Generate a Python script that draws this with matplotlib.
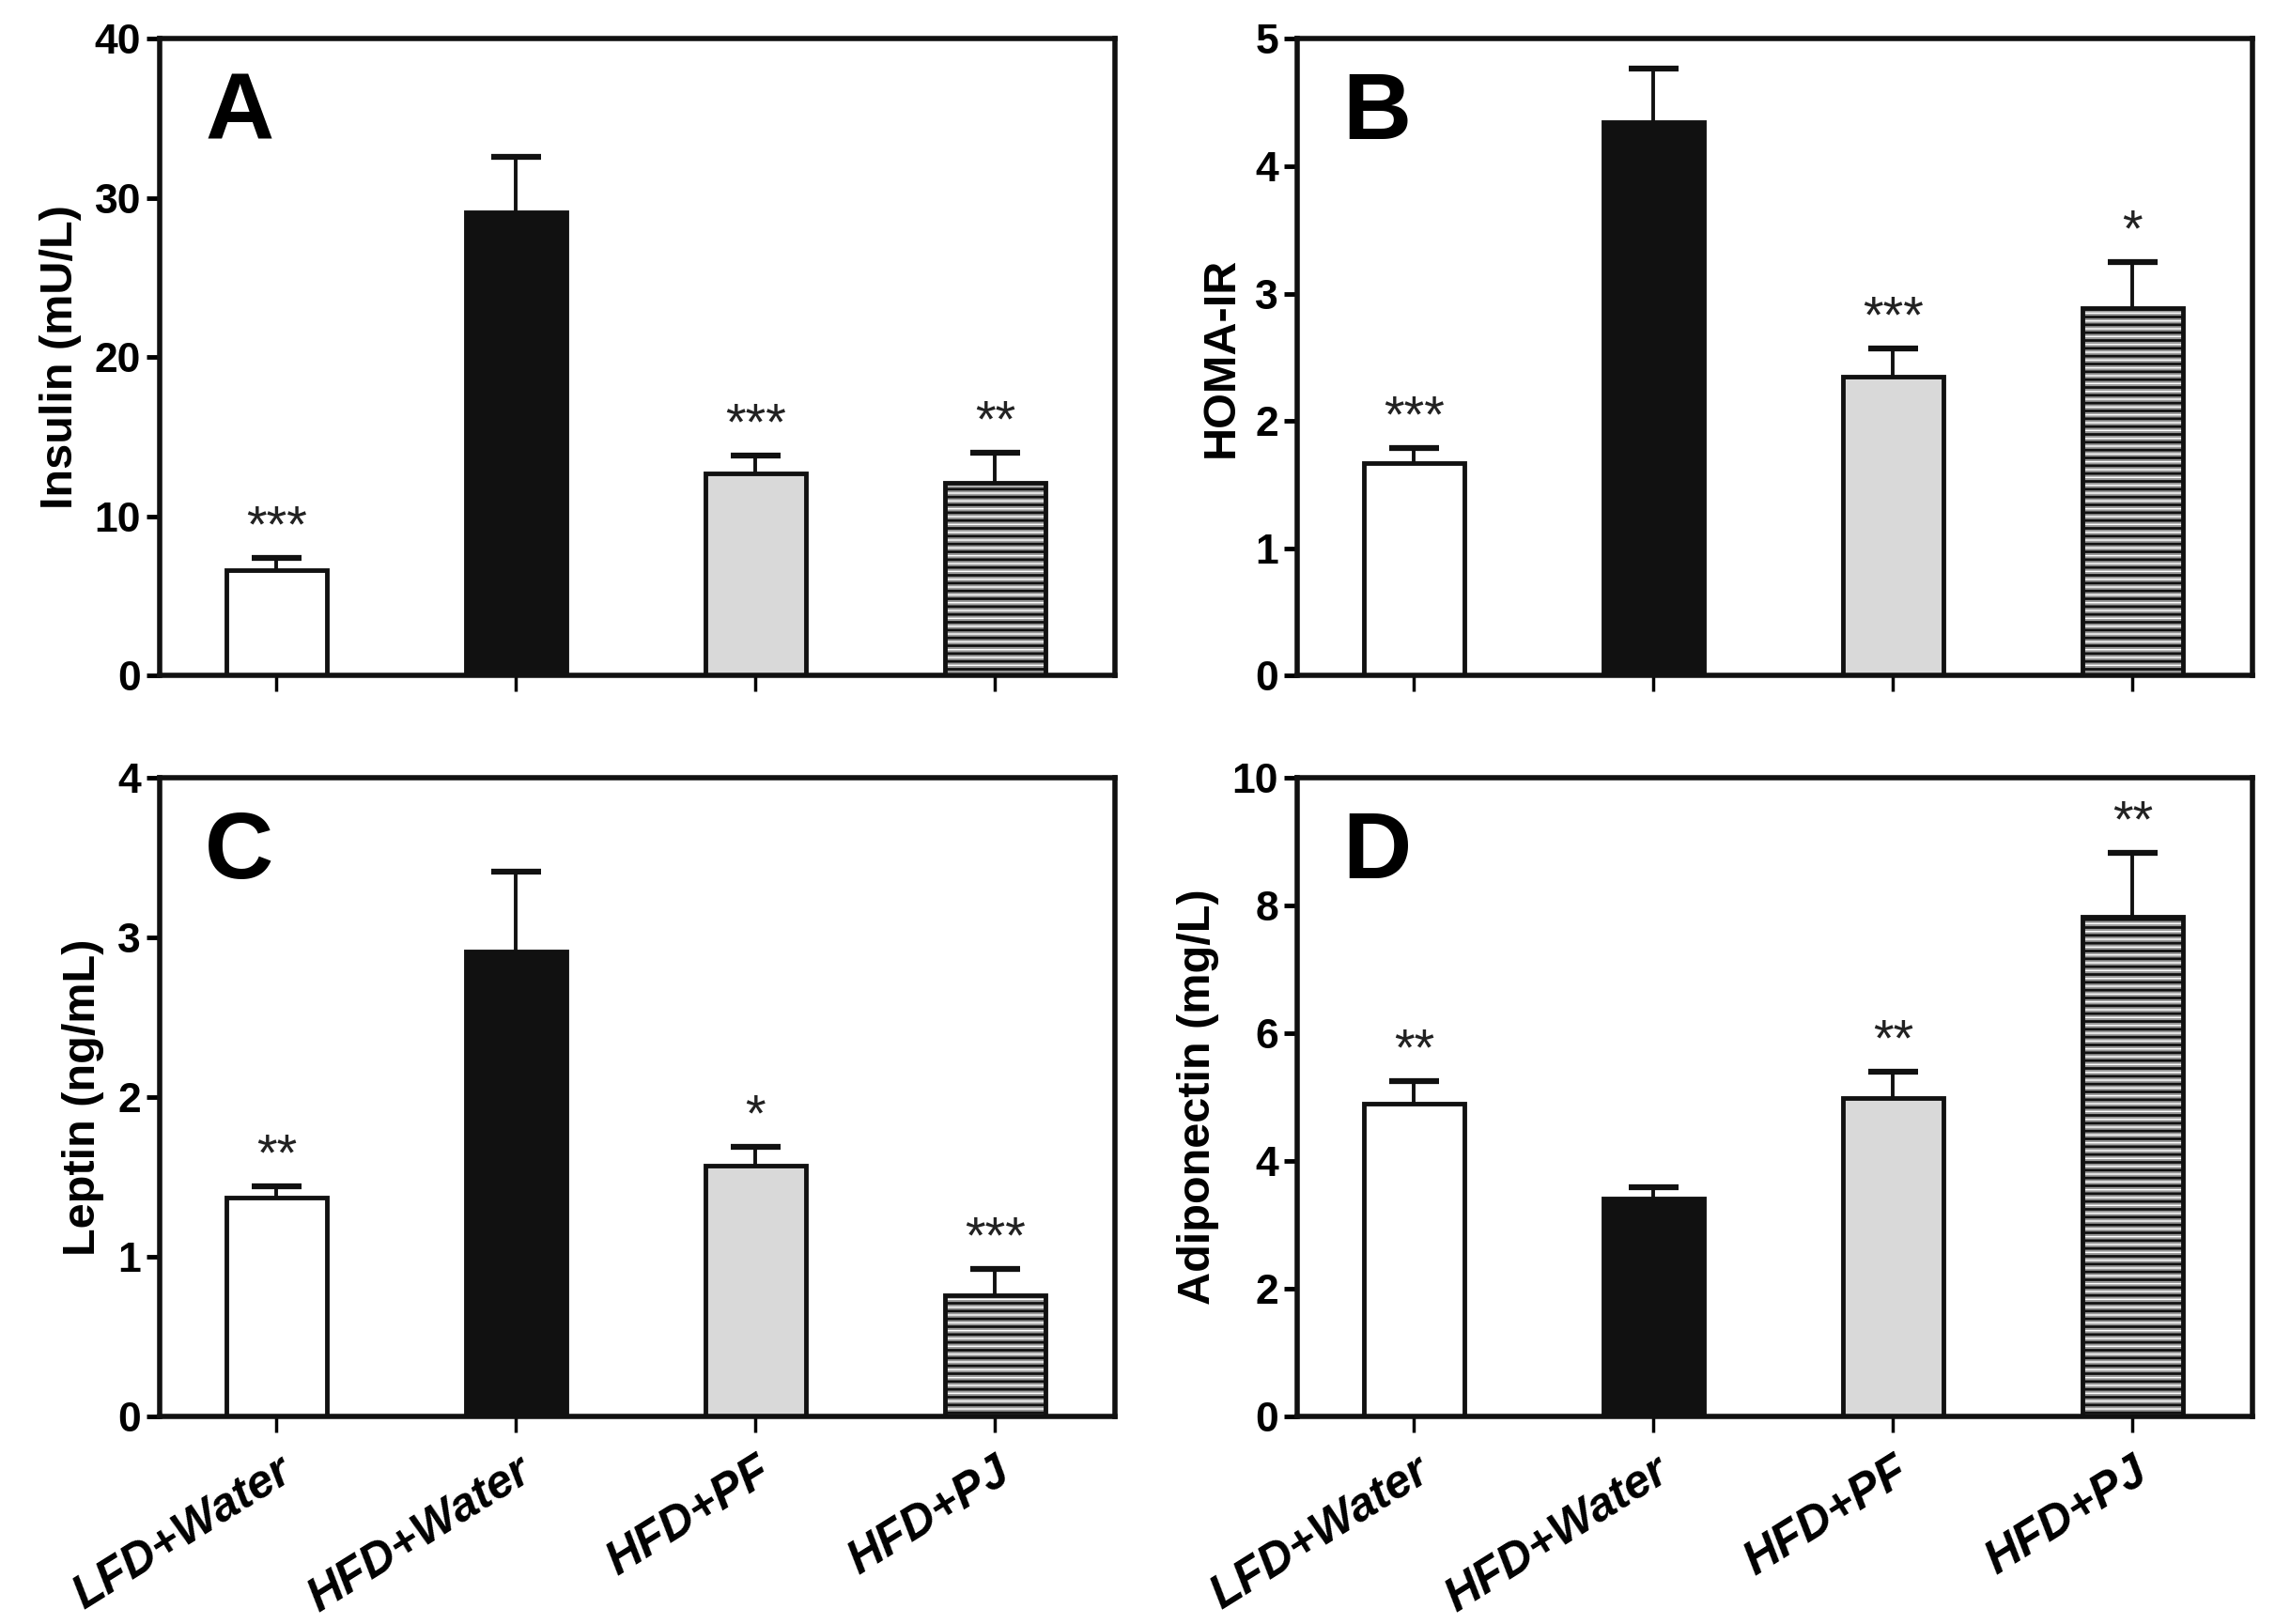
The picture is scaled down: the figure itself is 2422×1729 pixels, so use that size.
import numpy as np
import matplotlib
matplotlib.use("Agg")
import matplotlib.pyplot as plt

plt.rcParams['font.family'] = ['Liberation Sans', 'DejaVu Sans']
plt.rcParams['hatch.linewidth'] = 2.0

groups = ["LFD+Water", "HFD+Water", "HFD+PF", "HFD+PJ"]

insulin = [6.65, 29.1, 12.7, 12.1]
insulin_err = [0.75, 3.5, 1.1, 1.9]
insulin_sig = ["***", "", "***", "**"]

homa = [1.67, 4.35, 2.35, 2.89]
homa_err = [0.12, 0.42, 0.22, 0.36]
homa_sig = ["***", "", "***", "*"]

leptin = [1.37, 2.91, 1.57, 0.76]
leptin_err = [0.07, 0.50, 0.12, 0.16]
leptin_sig = ["**", "", "*", "***"]

adipo = [4.89, 3.41, 4.98, 7.82]
adipo_err = [0.36, 0.18, 0.41, 1.00]
adipo_sig = ["**", "", "**", "**"]

panels = [
    ("A", "Insulin (mU/L)", insulin, insulin_err, insulin_sig, 40, 10),
    ("B", "HOMA-IR", homa, homa_err, homa_sig, 5, 1),
    ("C", "Leptin (ng/mL)", leptin, leptin_err, leptin_sig, 4, 1),
    ("D", "Adiponectin (mg/L)", adipo, adipo_err, adipo_sig, 10, 2),
]

# axes boxes in figure fractions
boxes = [
    [0.070, 0.584, 0.420, 0.392],
    [0.570, 0.584, 0.420, 0.392],
    [0.070, 0.128, 0.420, 0.393],
    [0.570, 0.128, 0.420, 0.393],
]

fills = ["white", "#111111", "#d9d9d9", "white"]
W = 0.42
CAP = 0.105

fig = plt.figure(figsize=(24.22, 17.29), dpi=100)

for i, (letter, ylab, vals, errs, sig, ymax, step) in enumerate(panels):
    ax = fig.add_axes(boxes[i])
    x = np.arange(len(groups))
    vals = np.array(vals)
    tops = vals + np.array(errs)

    # upper-only error bars
    ax.vlines(x, vals, tops, color='#111111', linewidth=2.8, zorder=1)
    ax.hlines(tops, x - CAP, x + CAP, color='#111111', linewidth=4.5, zorder=1)

    for j in range(len(groups)):
        if j == 3:
            # dense stripes, gray and black
            ax.bar(x[j], vals[j], W, color='white', edgecolor='#999999',
                   hatch='----', linewidth=0, zorder=2)
            ax.bar(x[j], vals[j], W, color='none', edgecolor='#111111',
                   hatch='--', linewidth=0, zorder=3)
            ax.bar(x[j], vals[j], W, color='none', edgecolor='#111111',
                   linewidth=3.5, zorder=4)
        else:
            ax.bar(x[j], vals[j], W, color=fills[j], edgecolor='#111111',
                   linewidth=3.5, zorder=2)

    for j, s in enumerate(sig):
        if s:
            ax.annotate(s, (x[j], tops[j]), xytext=(0, 4),
                        textcoords='offset points', ha='center', va='bottom',
                        fontsize=40, color='#222222')

    ax.set_xlim(-0.49, 3.5)
    ax.set_ylim(0, ymax)
    ax.set_yticks(np.arange(0, ymax + step / 2, step))
    ax.set_xticks(x)
    if i >= 2:
        ax.set_xticklabels(groups, rotation=32, ha='right', rotation_mode='anchor',
                           fontsize=36, fontweight='bold', fontstyle='italic')
    else:
        ax.set_xticklabels([])
    for lbl in ax.get_yticklabels():
        lbl.set_fontweight('bold')
    ax.tick_params(axis='y', labelsize=32, width=3.5, length=10, direction='out', pad=4)
    ax.tick_params(axis='x', width=2.5, length=12, direction='out', pad=14)
    for sp in ax.spines.values():
        sp.set_linewidth(4)
        sp.set_color('#111111')
    ax.set_ylabel(ylab, fontsize=35, fontweight='bold', labelpad=10)
    ax.text(0.048, 0.95, letter, transform=ax.transAxes, fontsize=73,
            fontweight='bold', va='top', ha='left')

fig.savefig("out.png", dpi=100)
